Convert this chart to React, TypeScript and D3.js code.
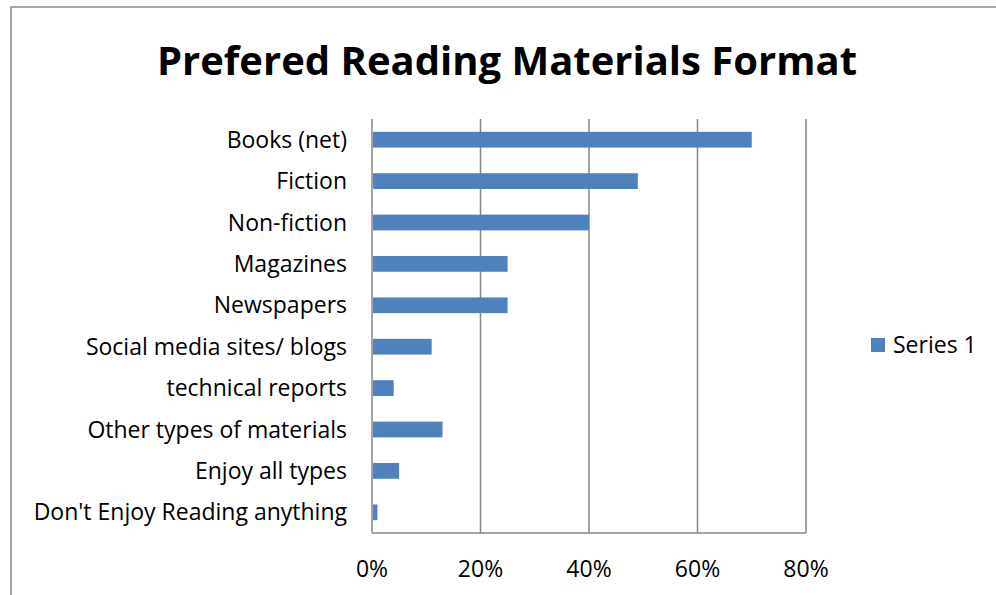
import { useEffect, useRef } from "react";
import * as d3 from "d3";

const categories = [
  "Books (net)",
  "Fiction",
  "Non-fiction",
  "Magazines",
  "Newspapers",
  "Social media sites/ blogs",
  "technical reports",
  "Other types of materials",
  "Enjoy all types",
  "Don't Enjoy Reading anything",
];
const values = [70, 49, 40, 25, 25, 11, 4, 13, 5, 1];
const xTicks = [0, 20, 40, 60, 80];
const seriesName = "Series 1";
const title = "Prefered Reading Materials Format";

const barColor = "#4F81BD";
const gridColor = "#868686";
const font = "'Open Sans', 'Noto Sans', sans-serif";

export default function App() {
  const svgRef = useRef<SVGSVGElement>(null);

  useEffect(() => {
    const width = 996;
    const height = 595;
    const plot = { left: 372, right: 806, top: 119, bottom: 533 };

    const svg = d3.select(svgRef.current)
      .attr("width", width)
      .attr("height", height)
      .html(null);

    // chart frame
    svg.append("rect")
      .attr("x", 11)
      .attr("y", 7)
      .attr("width", 1000)
      .attr("height", 620)
      .attr("fill", "white")
      .attr("stroke", "#8c8c8c")
      .attr("stroke-width", 1.5);

    svg.append("text")
      .attr("x", 507)
      .attr("y", 75)
      .attr("text-anchor", "middle")
      .style("font-family", font)
      .style("font-weight", "bold")
      .style("font-size", "40px")
      .text(title);

    const xScale = d3.scaleLinear()
      .domain([0, 80])
      .range([plot.left, plot.right]);

    const yScale = d3.scaleBand<string>()
      .domain(categories)
      .range([plot.top, plot.bottom])
      .paddingInner(0.62)
      .paddingOuter(0.31);

    // vertical gridlines
    svg.append("g")
      .selectAll("line")
      .data(xTicks)
      .join("line")
      .attr("x1", d => xScale(d))
      .attr("x2", d => xScale(d))
      .attr("y1", plot.top)
      .attr("y2", plot.bottom)
      .attr("stroke", gridColor)
      .attr("stroke-width", 1.5);

    // bottom axis line
    svg.append("line")
      .attr("x1", plot.left)
      .attr("x2", plot.right)
      .attr("y1", plot.bottom)
      .attr("y2", plot.bottom)
      .attr("stroke", gridColor)
      .attr("stroke-width", 1.5);

    svg.append("g")
      .selectAll("rect")
      .data(values)
      .join("rect")
      .attr("x", xScale(0) + 1)
      .attr("y", (_, i) => yScale(categories[i]) as number)
      .attr("width", d => xScale(d) - xScale(0) - 1)
      .attr("height", yScale.bandwidth())
      .attr("fill", barColor);

    // category labels
    svg.append("g")
      .selectAll("text")
      .data(categories)
      .join("text")
      .attr("x", plot.left - 25)
      .attr("y", d => (yScale(d) as number) + yScale.bandwidth() / 2)
      .attr("dy", "0.35em")
      .attr("text-anchor", "end")
      .style("font-family", font)
      .style("font-size", "23px")
      .text(d => d);

    // x tick labels
    svg.append("g")
      .selectAll("text")
      .data(xTicks)
      .join("text")
      .attr("x", d => xScale(d))
      .attr("y", 569)
      .attr("dy", "0.35em")
      .attr("text-anchor", "middle")
      .style("font-family", font)
      .style("font-size", "23px")
      .text(d => `${d}%`);

    // legend
    const legend = svg.append("g").attr("transform", "translate(871,338)");
    legend.append("rect")
      .attr("width", 14)
      .attr("height", 14)
      .attr("fill", barColor);
    legend.append("text")
      .attr("x", 22)
      .attr("y", 7)
      .attr("dy", "0.35em")
      .style("font-family", font)
      .style("font-size", "23px")
      .text(seriesName);
  }, []);

  return (
    <svg
      ref={svgRef}
      style={{ position: "absolute", left: 0, top: 0, display: "block" }}
    ></svg>
  );
}
